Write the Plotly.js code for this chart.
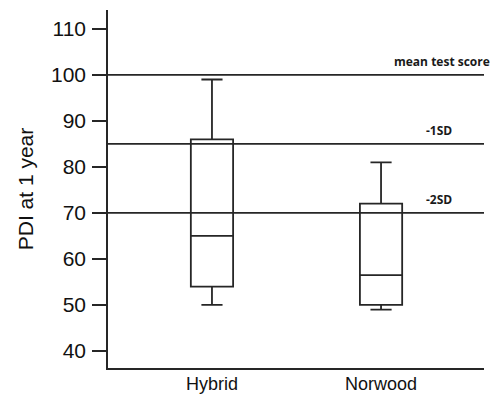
<!DOCTYPE html>
<html>
<head>
<meta charset="utf-8">
<script src="https://cdn.plot.ly/plotly-3.0.1.min.js"></script>
<style>html,body{margin:0;padding:0;background:#fff}#chart{width:498px;height:394px}</style>
</head>
<body>
<div id="chart"></div>
<script>
// Data
const groups = ["Hybrid", "Norwood"];
const lowerWhisker = [50, 49];
const q1Values = [54, 50];
const medianValues = [65, 56.5];
const q3Values = [86, 72];
const upperWhisker = [99, 81];

const refValues = [100, 85, 70];
const refLabels = ["mean test score", "-1SD", "-2SD"];

const yTicks = [40, 50, 60, 70, 80, 90, 100, 110];

const lineCol = "#262626";

const trace = {
  type: "box",
  x: groups,
  q1: q1Values,
  median: medianValues,
  q3: q3Values,
  lowerfence: lowerWhisker,
  upperfence: upperWhisker,
  width: 0.25,
  whiskerwidth: 0.5,
  fillcolor: "rgba(255,255,255,0)",
  line: {color: lineCol, width: 1.8},
  boxpoints: false,
  hoverinfo: "skip",
  showlegend: false
};

const shapes = refValues.map(v => ({
  type: "line", xref: "paper", x0: 0, x1: 1, yref: "y", y0: v, y1: v,
  line: {color: lineCol, width: 1.8}
}));

const annXs = [1.022, 0.92, 0.92];
const annotations = refLabels.map((t, i) => ({
  text: "<b>" + t + "</b>", xref: "paper", x: annXs[i], xanchor: "right",
  yref: "y", y: refValues[i], yanchor: "bottom", yshift: 3,
  showarrow: false, font: {family: "Open Sans, Liberation Sans, sans-serif", size: 12, color: "#1a1a1a"}
}));

// category labels under the axis
groups.forEach(g => annotations.push({
  text: g, xref: "x", x: g, yref: "paper", y: 0, yanchor: "top", yshift: -5,
  showarrow: false, borderpad: 0,
  font: {family: "Liberation Sans, Arial, sans-serif", size: 18, color: "#111"}
}));

const layout = {
  width: 498, height: 394,
  margin: {l: 108, r: 14, t: 10, b: 26},
  paper_bgcolor: "#fff", plot_bgcolor: "#fff",
  showlegend: false,
  xaxis: {
    type: "category", range: [-0.615, 1.609],
    showgrid: false, zeroline: false, showline: true, linecolor: lineCol, linewidth: 1.8,
    ticks: "", showticklabels: false
  },
  yaxis: {
    range: [36.3, 114.1], tickvals: yTicks, ticktext: yTicks.map(String),
    showgrid: false, zeroline: false, showline: true, linecolor: lineCol, linewidth: 1.8,
    ticks: "outside", ticklen: 14, tickwidth: 1.8, tickcolor: lineCol,
    ticklabelstandoff: 2,
    tickfont: {family: "Liberation Sans, Arial, sans-serif", size: 21, color: "#111"},
    title: {text: "PDI at 1 year", standoff: 12, font: {family: "Liberation Sans, Arial, sans-serif", size: 21, color: "#111"}}
  },
  shapes: shapes,
  annotations: annotations
};

Plotly.newPlot("chart", [trace], layout, {displayModeBar: false, staticPlot: true});
</script>
</body>
</html>
